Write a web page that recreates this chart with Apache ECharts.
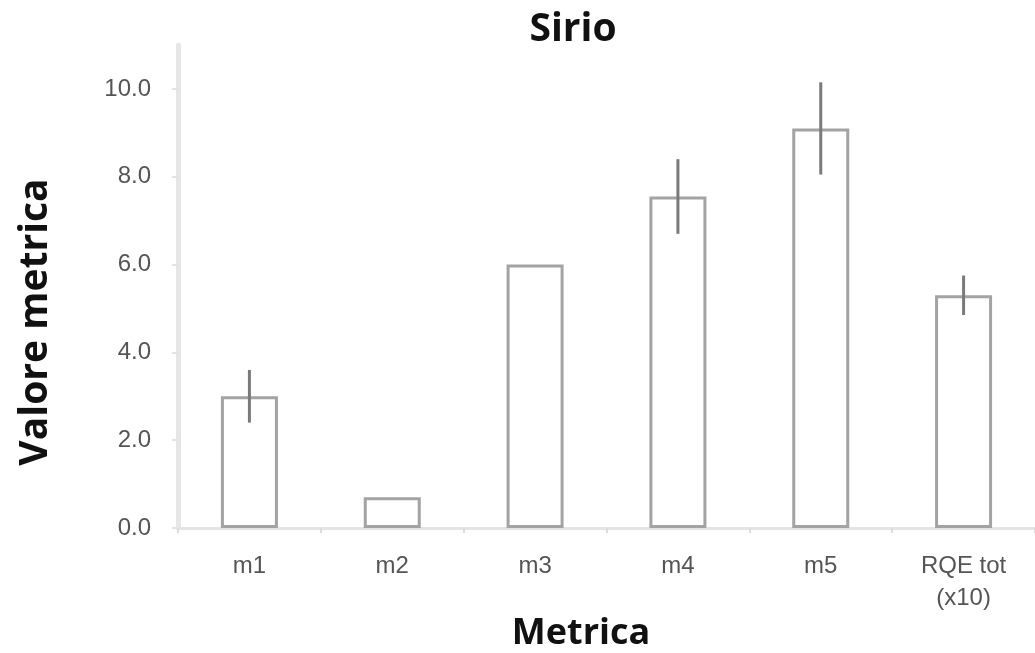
<!DOCTYPE html>
<html>
<head>
<meta charset="utf-8">
<script src="https://cdn.jsdelivr.net/npm/echarts@6/dist/echarts.min.js"></script>
<style>html,body{margin:0;padding:0;background:#fff;}#c{width:1035px;height:653px;}</style>
</head>
<body>
<div id="c"></div>
<script>
var categories = ['m1', 'm2', 'm3', 'm4', 'm5', 'RQE tot\n(x10)'];
var values = [3.0, 0.7, 6.0, 7.55, 9.1, 5.3];
var errors = [0.6, 0, 0, 0.85, 1.05, 0.45];
var yTicks = [0, 2, 4, 6, 8, 10];

var chart = echarts.init(document.getElementById('c'));
var errData = categories.map(function (c, i) { return [i, values[i], errors[i]]; })
  .filter(function (d) { return d[2] > 0; });

chart.setOption({
  animation: false,
  backgroundColor: '#ffffff',
  grid: { left: 178, top: 45, width: 867, height: 483, containLabel: false },
  xAxis: {
    type: 'category',
    data: categories,
    boundaryGap: true,
    axisLine: { lineStyle: { color: '#e4e4e4', width: 3 } },
    axisTick: { show: true, length: 5, lineStyle: { color: '#dcdcdc', width: 2 } },
    axisLabel: { fontFamily: 'Liberation Sans', fontSize: 24, color: '#555', margin: 22, lineHeight: 32 }
  },
  yAxis: {
    type: 'value',
    min: yTicks[0],
    max: 11,
    interval: 2,
    splitLine: { show: false },
    axisLine: { show: true, lineStyle: { color: '#e6e6e6', width: 5 } },
    axisTick: { show: true, length: 6, lineStyle: { color: '#e2e2e2', width: 2 } },
    axisLabel: {
      fontFamily: 'Liberation Sans', fontSize: 24, color: '#555', margin: 27,
      showMaxLabel: false,
      formatter: function (v) { return yTicks.indexOf(v) >= 0 ? v.toFixed(1) : ''; }
    }
  },
  series: [
    {
      type: 'bar',
      data: values,
      barWidth: 57,
      itemStyle: { color: '#ffffff', borderColor: '#a3a3a3', borderWidth: 3 }
    },
    {
      type: 'custom',
      data: errData,
      z: 5,
      renderItem: function (params, api) {
        var x = api.value(0), v = api.value(1), e = api.value(2);
        var p1 = api.coord([x, v + e]);
        var p2 = api.coord([x, v - e]);
        return {
          type: 'line',
          shape: { x1: p1[0], y1: p1[1], x2: p2[0], y2: p2[1] },
          style: { stroke: '#7a7a7a', lineWidth: 3 }
        };
      }
    }
  ],
  graphic: [
    { type: 'text', x: 573, y: 30, style: { text: 'Sirio', font: 'bold 39px "Open Sans"', fill: '#111', textAlign: 'center', textVerticalAlign: 'middle' } },
    { type: 'text', x: 581, y: 634, style: { text: 'Metrica', font: 'bold 36px "Open Sans"', fill: '#111', textAlign: 'center', textVerticalAlign: 'middle' } },
    { type: 'text', x: 36, y: 322, rotation: Math.PI / 2, style: { text: 'Valore metrica', font: 'bold 39px "Open Sans"', fill: '#111', textAlign: 'center', textVerticalAlign: 'middle' } }
  ]
});
</script>
</body>
</html>
